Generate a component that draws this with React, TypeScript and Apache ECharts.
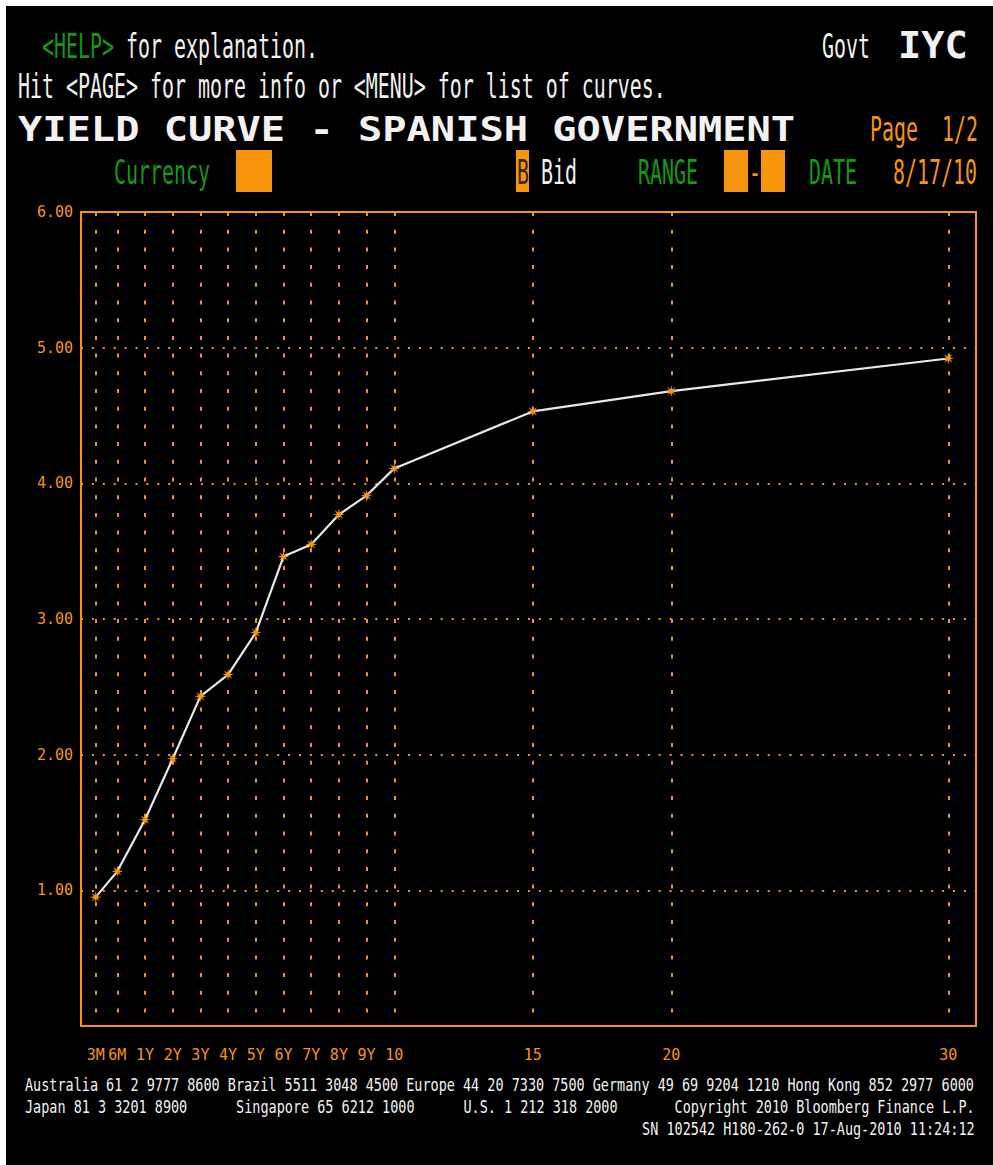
import React, { useEffect, useRef } from 'react';
import * as echarts from 'echarts';

// ---- data ----
const tenorLabels = ['3M', '6M', '1Y', '2Y', '3Y', '4Y', '5Y', '6Y', '7Y', '8Y', '9Y', '10', '15', '20', '30'];
const tenorPos = [-0.78, 0, 1, 2, 3, 4, 5, 6, 7, 8, 9, 10, 15, 20, 30];
const bidYields = [0.95, 1.14, 1.52, 1.97, 2.43, 2.59, 2.9, 3.46, 3.55, 3.77, 3.91, 4.11, 4.53, 4.68, 4.92];
const yMin = 0;
const yMax = 6;
const yStep = 1;

const footerLine1 = 'Australia 61 2 9777 8600 Brazil 5511 3048 4500 Europe 44 20 7330 7500 Germany 49 69 9204 1210 Hong Kong 852 2977 6000';
const footerLine2 = [
  { col: 0, text: 'Japan 81 3 3201 8900' },
  { col: 26, text: 'Singapore 65 6212 1000' },
  { col: 54, text: 'U.S. 1 212 318 2000' },
  { col: 80, text: 'Copyright 2010 Bloomberg Finance L.P.' },
];
const footerLine3 = [{ col: 76, text: 'SN 102542 H180-262-0 17-Aug-2010 11:24:12' }];

// ---- styles ----
const ORANGE = '#f7950c';
const GREEN = '#149a14';
const WHITE = '#f2f2f2';
const MONO = '"DejaVu Sans Mono", monospace';

const STAR =
  'path://M20 10L13.23 11.34L17.07 17.07L11.34 13.23L10 20L8.66 13.23L2.93 17.07L6.77 11.34L0 10L6.77 8.66L2.93 2.93L8.66 6.77L10 0L11.34 6.77L17.07 2.93L13.23 8.66Z';

function txt(x: number, y: number, text: string, fill: string, size: number, scaleX: number, bold = false) {
  return {
    type: 'text',
    x,
    y,
    scaleX,
    silent: true,
    style: {
      text,
      fill,
      font: `${bold ? 'bold ' : ''}${size}px ${MONO}`,
      align: 'left',
      verticalAlign: 'middle',
    },
  };
}

function box(x: number, y: number, w: number, h: number) {
  return { type: 'rect', silent: true, shape: { x, y, width: w, height: h }, style: { fill: ORANGE } };
}

export default function App() {
  const ref = useRef<HTMLDivElement>(null);

  useEffect(() => {
    document.body.style.margin = '0';
    if (!ref.current) return;
    const chart = echarts.init(ref.current, undefined, { renderer: 'svg' });

    const H = 33;
    const HS = 0.604;
    const F = 18;
    const FS = 0.749;
    const fx = (col: number) => 25 + col * 8.12;

    const graphic: any[] = [
      { type: 'rect', silent: true, shape: { x: 0, y: 0, width: 993, height: 6 }, style: { fill: '#fff' } },
      { type: 'rect', silent: true, shape: { x: 0, y: 0, width: 6, height: 1165 }, style: { fill: '#fff' } },
      txt(42, 46, '<HELP>', GREEN, H, HS),
      txt(126, 46, 'for explanation.', WHITE, H, HS),
      txt(822, 46, 'Govt', WHITE, H, HS),
      txt(898, 45, 'IYC', WHITE, 37, 1.045, true),
      txt(18, 86, 'Hit <PAGE> for more info or <MENU> for list of curves.', WHITE, H, HS),
      txt(18, 129, 'YIELD CURVE - SPANISH GOVERNMENT', WHITE, 34, 1.187, true),
      txt(870, 129, 'Page  1/2', ORANGE, H, HS),
      txt(114, 172, 'Currency', GREEN, H, HS),
      box(236, 150, 36, 42),
      box(516, 150, 13, 42),
      txt(517, 172, 'B', '#3a2400', H, HS),
      txt(541, 172, 'Bid', WHITE, H, HS),
      txt(638, 172, 'RANGE', GREEN, H, HS),
      box(724, 150, 24, 42),
      txt(749, 172, '-', ORANGE, H, HS),
      box(761, 150, 24, 42),
      txt(809, 172, 'DATE', GREEN, H, HS),
      txt(893, 172, '8/17/10', ORANGE, H, HS),
      txt(fx(0), 1084.5, footerLine1, WHITE, F, FS),
      ...footerLine2.map((s) => txt(fx(s.col), 1106.5, s.text, WHITE, F, FS)),
      ...footerLine3.map((s) => txt(fx(s.col), 1128.5, s.text, WHITE, F, FS)),
    ];

    const labelFor = (v: number) => {
      const i = tenorPos.findIndex((p) => Math.abs(p - v) < 1e-6);
      return i >= 0 ? tenorLabels[i] : '';
    };

    chart.setOption({
      animation: false,
      backgroundColor: '#000',
      grid: {
        left: 81,
        right: 17,
        top: 212,
        bottom: 139,
        show: true,
        borderColor: ORANGE,
        borderWidth: 2,
        backgroundColor: 'transparent',
        containLabel: false,
      },
      xAxis: {
        type: 'value',
        min: -1.31,
        max: 31,
        axisLine: { show: false },
        axisTick: { show: false, customValues: tenorPos },
        axisLabel: {
          customValues: tenorPos,
          formatter: (v: number) => labelFor(v),
          color: ORANGE,
          fontFamily: MONO,
          fontSize: 15,
          margin: 21,
        },
        splitLine: {
          show: true,
          lineStyle: { color: ORANGE, width: 2, type: [4, 13.7] },
        },
      },
      yAxis: {
        type: 'value',
        min: yMin,
        max: yMax,
        interval: yStep,
        axisLine: { show: false },
        axisTick: { show: false },
        axisLabel: {
          formatter: (v: number) => (v === 0 ? '' : v.toFixed(2)),
          color: ORANGE,
          fontFamily: MONO,
          fontSize: 15,
          margin: 8,
        },
        splitLine: {
          show: true,
          lineStyle: { color: ORANGE, width: 2, type: [2, 8.9] },
        },
      },
      series: [
        {
          type: 'line',
          data: tenorPos.map((p, i) => [p, bidYields[i]]),
          lineStyle: { color: '#e8e8e8', width: 2.2 },
          symbol: STAR,
          symbolSize: 12,
          itemStyle: { color: ORANGE },
          z: 3,
        },
      ],
      graphic,
    });

    return () => chart.dispose();
  }, []);

  return (
    <div
      ref={ref}
      style={{ position: 'absolute', left: 0, top: 0, width: 993, height: 1165 }}
    />
  );
}
